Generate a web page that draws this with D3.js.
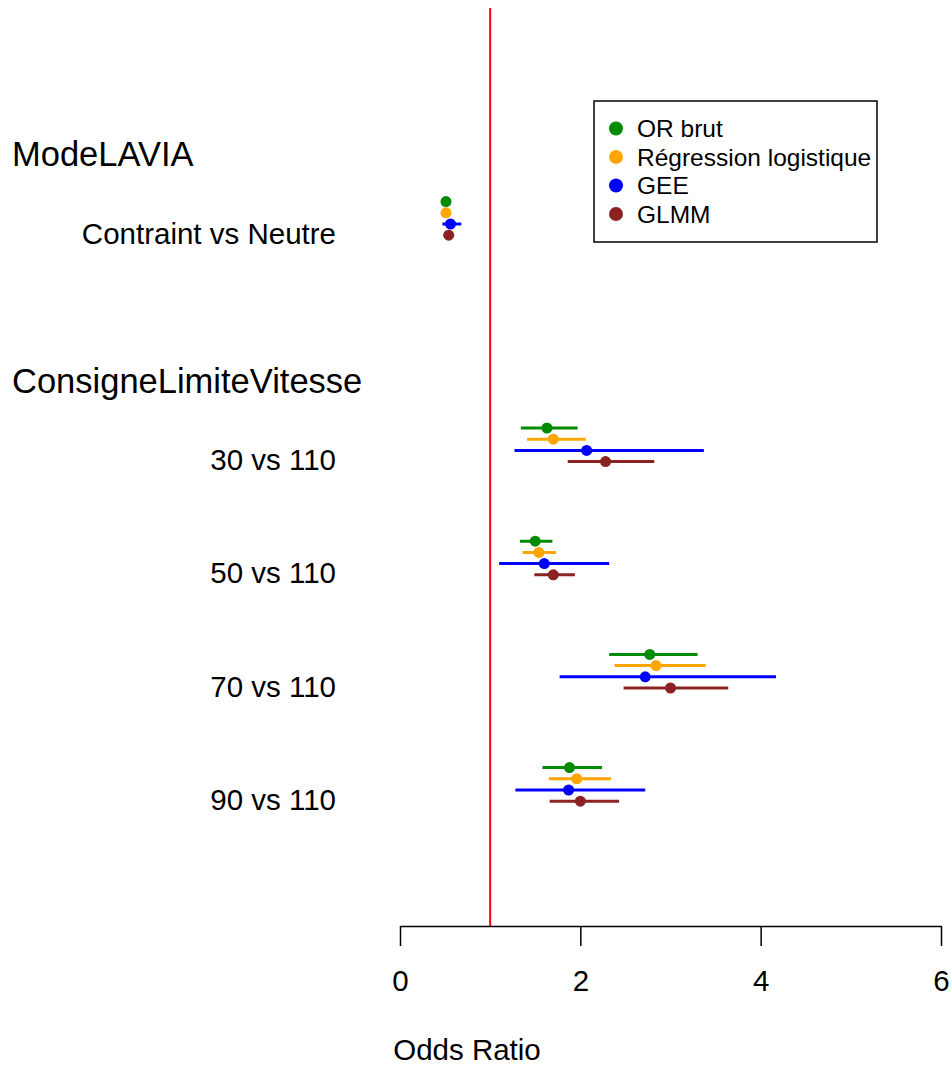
<!DOCTYPE html>
<html>
<head>
<meta charset="utf-8">
<script src="https://cdn.jsdelivr.net/npm/d3@7"></script>
<style>
  body { margin: 0; background: #fff; }
  svg text { font-family: "Liberation Sans", Arial, sans-serif; fill: #000; }
</style>
</head>
<body>
<div id="chart"></div>
<script>
// ── Data ─────────────────────────────────────────────────────────
const groups = ["ModeLAVIA", "ConsigneLimiteVitesse"];
const groupRow = [0, 2];
const categories = ["Contraint vs Neutre", "30 vs 110", "50 vs 110", "70 vs 110", "90 vs 110"];
const categoryRow = [0, 2, 3, 4, 5];

const methods = ["OR brut", "Régression logistique", "GEE", "GLMM"];
const methodColors = ["#008B00", "#FFA500", "#0000FF", "#8B2323"];

const orBrut    = [0.51, 1.63, 1.50, 2.77, 1.88];
const orBrutLo  = [0.49, 1.34, 1.33, 2.32, 1.58];
const orBrutHi  = [0.53, 1.97, 1.69, 3.30, 2.24];
const regLog    = [0.51, 1.70, 1.54, 2.84, 1.96];
const regLogLo  = [0.49, 1.41, 1.36, 2.38, 1.65];
const regLogHi  = [0.54, 2.06, 1.73, 3.39, 2.34];
const gee       = [0.56, 2.07, 1.60, 2.72, 1.87];
const geeLo     = [0.47, 1.27, 1.10, 1.77, 1.28];
const geeHi     = [0.68, 3.37, 2.32, 4.17, 2.72];
const glmm      = [0.54, 2.28, 1.70, 3.00, 2.00];
const glmmLo    = [0.51, 1.86, 1.49, 2.48, 1.66];
const glmmHi    = [0.57, 2.82, 1.94, 3.64, 2.43];

const xTicks = [0, 2, 4, 6];
const refValue = 1;

// ── Layout ───────────────────────────────────────────────────────
const width = 952, height = 1068;
const axisY = 926;

const xScale = d3.scaleLinear().domain([0, 6]).range([400, 941]);
const yScale = d3.scaleLinear().domain([0, 5]).range([218.4, 784.4]);
const offScale = d3.scaleLinear().domain([0, 3]).range([-16.8, 16.8]);

const series = [
    { est: orBrut, lo: orBrutLo, hi: orBrutHi },
    { est: regLog, lo: regLogLo, hi: regLogHi },
    { est: gee, lo: geeLo, hi: geeHi },
    { est: glmm, lo: glmmLo, hi: glmmHi }
];

const svg = d3.select("#chart")
    .append("svg")
    .attr("width", width)
    .attr("height", height);

// Reference line
svg.append("line")
    .attr("x1", xScale(refValue)).attr("x2", xScale(refValue))
    .attr("y1", 8).attr("y2", axisY)
    .attr("stroke", "#FF0000")
    .attr("stroke-width", 2);

// Group headers
svg.selectAll(".group")
    .data(groups)
    .join("text")
    .attr("class", "group")
    .attr("x", 12)
    .attr("y", (d, i) => yScale(groupRow[i]) - 64)
    .attr("dy", "0.35em")
    .style("font-size", "34.5px")
    .text(d => d);

// Category labels
svg.selectAll(".cat")
    .data(categories)
    .join("text")
    .attr("class", "cat")
    .attr("x", 336)
    .attr("y", (d, i) => yScale(categoryRow[i]) + 15)
    .attr("dy", "0.35em")
    .attr("text-anchor", "end")
    .style("font-size", "29.5px")
    .text(d => d);

// CI lines and points
series.forEach((s, m) => {
    const g = svg.append("g");
    const rows = categories.map((c, i) => ({
        y: yScale(categoryRow[i]) + offScale(m),
        est: s.est[i], lo: s.lo[i], hi: s.hi[i]
    }));
    g.selectAll("line")
        .data(rows)
        .join("line")
        .attr("x1", d => xScale(d.lo))
        .attr("x2", d => xScale(d.hi))
        .attr("y1", d => d.y)
        .attr("y2", d => d.y)
        .attr("stroke", methodColors[m])
        .attr("stroke-width", 3);
    g.selectAll("circle")
        .data(rows)
        .join("circle")
        .attr("cx", d => xScale(d.est))
        .attr("cy", d => d.y)
        .attr("r", 5.5)
        .attr("fill", methodColors[m]);
});

// Bottom axis
const bottomAxis = d3.axisBottom(xScale)
    .tickValues(xTicks)
    .tickFormat(d3.format("d"))
    .tickSize(20)
    .tickSizeOuter(0)
    .tickPadding(24);
const axisG = svg.append("g")
    .attr("transform", `translate(0,${axisY})`)
    .call(bottomAxis);
axisG.select(".domain").attr("stroke-width", 1.5);
axisG.selectAll(".tick line").attr("stroke-width", 1.5);
axisG.selectAll(".tick text")
    .style("font-size", "29.5px")
    .style("font-family", "'Liberation Sans', Arial, sans-serif");

svg.append("text")
    .attr("x", 467)
    .attr("y", 1050)
    .attr("dy", "0.35em")
    .attr("text-anchor", "middle")
    .style("font-size", "29.5px")
    .text("Odds Ratio");

// Legend
const legend = svg.append("g").attr("transform", "translate(594,101)");
legend.append("rect")
    .attr("width", 283).attr("height", 141)
    .attr("fill", "#fff")
    .attr("stroke", "#000")
    .attr("stroke-width", 1.5);
const legendItems = legend.selectAll(".item")
    .data(methods)
    .join("g")
    .attr("class", "item")
    .attr("transform", (d, i) => `translate(0,${27.5 + i * 28.5})`);
legendItems.append("circle")
    .attr("cx", 22)
    .attr("r", 7)
    .attr("fill", (d, i) => methodColors[i]);
legendItems.append("text")
    .attr("x", 43)
    .attr("dy", "0.35em")
    .style("font-size", "24.5px")
    .text(d => d);
</script>
</body>
</html>
